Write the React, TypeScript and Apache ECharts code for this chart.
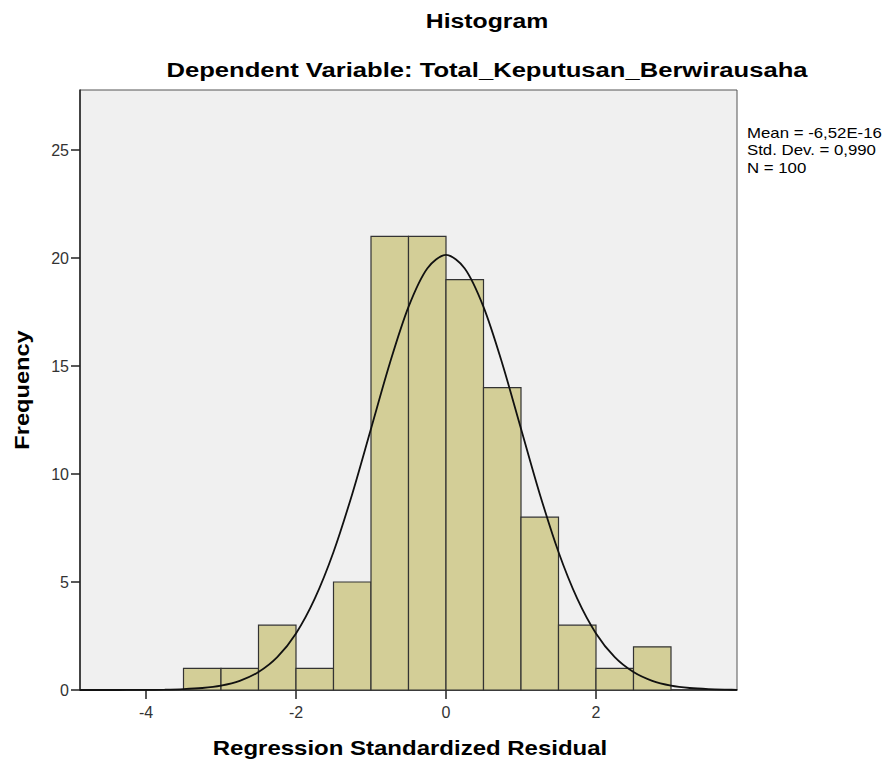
import React, { useEffect, useRef } from "react";
import * as echarts from "echarts";

// Histogram bins (lower edge, upper edge) and frequencies
const binLower = [-3.5, -3, -2.5, -2, -1.5, -1, -0.5, 0, 0.5, 1, 1.5, 2, 2.5];
const binUpper = [-3, -2.5, -2, -1.5, -1, -0.5, 0, 0.5, 1, 1.5, 2, 2.5, 3];
const frequencies = [1, 1, 3, 1, 5, 21, 21, 19, 14, 8, 3, 1, 2];

// Normal curve points
const curveX = [-4.88, -4.5, -4.25, -4, -3.75, -3.5, -3.25, -3, -2.75, -2.5, -2.25, -2, -1.75, -1.5, -1.25, -1, -0.75, -0.5, -0.25, 0, 0.25, 0.5, 0.75, 1, 1.25, 1.5, 1.75, 2, 2.25, 2.5, 2.75, 3, 3.25, 3.5, 3.75, 3.88];
const curveY = [0.0001, 0.0007, 0.002, 0.006, 0.015, 0.039, 0.092, 0.204, 0.425, 0.831, 1.52, 2.62, 4.23, 6.39, 9.08, 12.1, 15.12, 17.74, 19.52, 20.15, 19.52, 17.74, 15.12, 12.1, 9.08, 6.39, 4.23, 2.62, 1.52, 0.831, 0.425, 0.204, 0.092, 0.039, 0.015, 0.009];

const xTicks = [-4, -2, 0, 2];
const yTicks = [0, 5, 10, 15, 20, 25];

const statsLines = ["Mean = -6,52E-16", "Std. Dev. = 0,990", "N = 100"];

const titleText = "Histogram";
const subtitleText = "Dependent Variable: Total_Keputusan_Berwirausaha";
const xName = "Regression Standardized Residual";
const yName = "Frequency";

const FONT = "'Liberation Sans', Arial, sans-serif";

export default function App() {
  const ref = useRef<HTMLDivElement>(null);
  useEffect(() => {
    if (!ref.current) return;
    const chart = echarts.init(ref.current, undefined, { renderer: "svg" });
    const barData = binLower.map((l, i) => [l, binUpper[i], frequencies[i]]);
    const lineData = curveX.map((x, i) => [x, curveY[i]]);
    const bold = { fontWeight: "bold", fill: "#000", fontFamily: FONT, align: "center", verticalAlign: "middle" };
    chart.setOption({
      animation: false,
      backgroundColor: "#ffffff",
      textStyle: { fontFamily: FONT },
      grid: {
        left: 80,
        top: 90,
        width: 657,
        height: 600,
        show: true,
        backgroundColor: "#f0f0f0",
        borderColor: "#555",
        borderWidth: 1,
      },
      xAxis: {
        type: "value",
        min: -4.88,
        max: 3.88,
        axisLine: { show: true, onZero: false, lineStyle: { color: "#222", width: 1.5 } },
        axisTick: { show: true, length: 9, customValues: xTicks, lineStyle: { color: "#222", width: 1.5 } },
        axisLabel: { customValues: xTicks, fontSize: 16, color: "#333", margin: 14, fontFamily: FONT },
        splitLine: { show: false },
      },
      yAxis: {
        type: "value",
        min: 0,
        max: 27.78,
        axisLine: { show: true, onZero: false, lineStyle: { color: "#222", width: 1.5 } },
        axisTick: { show: true, length: 9, customValues: yTicks, lineStyle: { color: "#222", width: 1.5 } },
        axisLabel: { customValues: yTicks, fontSize: 16, color: "#333", margin: 11, fontFamily: FONT },
        splitLine: { show: false },
      },
      series: [
        {
          type: "custom",
          data: barData,
          encode: { x: [0, 1], y: 2 },
          renderItem: (params: any, api: any) => {
            const p0 = api.coord([api.value(0), api.value(2)]);
            const p1 = api.coord([api.value(1), 0]);
            return {
              type: "rect",
              shape: { x: p0[0], y: p0[1], width: p1[0] - p0[0], height: p1[1] - p0[1] },
              style: { fill: "#d3ce97", stroke: "#333", lineWidth: 1.2 },
            };
          },
          z: 2,
        },
        {
          type: "line",
          data: lineData,
          smooth: 0.3,
          showSymbol: false,
          symbol: "none",
          lineStyle: { color: "#111", width: 1.8 },
          z: 3,
        },
      ],
      graphic: [
        {
          type: "text",
          x: 487,
          y: 21,
          scaleX: 1.18,
          style: { ...bold, text: titleText, fontSize: 21 },
        },
        {
          type: "text",
          x: 487,
          y: 70,
          scaleX: 1.22,
          style: { ...bold, text: subtitleText, fontSize: 21 },
        },
        {
          type: "text",
          x: 410,
          y: 748,
          scaleX: 1.2,
          style: { ...bold, text: xName, fontSize: 20 },
        },
        {
          type: "text",
          x: 22,
          y: 390,
          rotation: Math.PI / 2,
          scaleX: 1.18,
          style: { ...bold, text: yName, fontSize: 20 },
        },
        {
          type: "text",
          x: 747,
          y: 124,
          scaleX: 1.2,
          style: { text: statsLines.join("\n"), fontSize: 14, lineHeight: 17.5, fill: "#000", fontFamily: FONT },
        },
      ],
    });
    return () => chart.dispose();
  }, []);
  return (
    <div
      ref={ref}
      style={{ position: "absolute", left: 0, top: 0, width: 884, height: 765 }}
    />
  );
}
